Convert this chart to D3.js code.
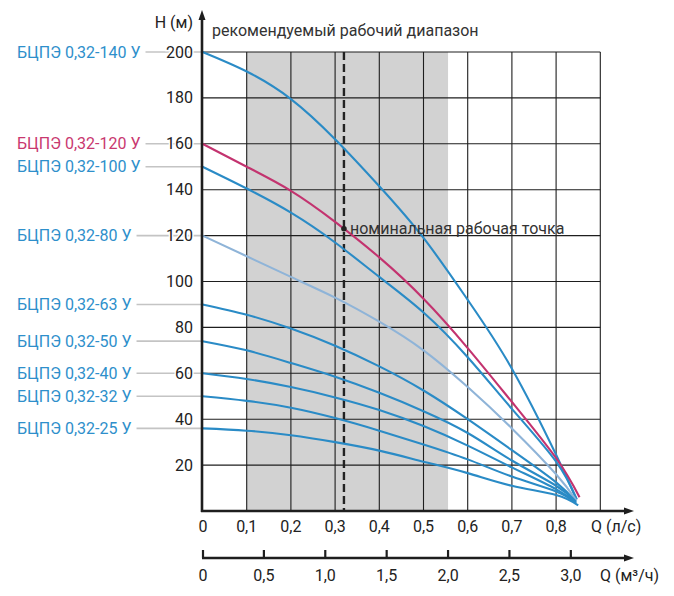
<!DOCTYPE html>
<html>
<head>
<meta charset="utf-8">
<script src="https://cdn.jsdelivr.net/npm/d3@7/dist/d3.min.js"></script>
<style>
  html, body { margin: 0; padding: 0; background: #fff; }
  svg { display: block; font-family: Roboto, "Noto Sans", sans-serif; }
</style>
</head>
<body>
<svg id="chart" width="674" height="596"></svg>
<script>
// ---- data ----
const qPoints = [0, 0.1, 0.2, 0.3, 0.4, 0.5, 0.6, 0.7, 0.8];
const seriesNames = ["БЦПЭ 0,32-140 У", "БЦПЭ 0,32-120 У", "БЦПЭ 0,32-100 У", "БЦПЭ 0,32-80 У",
  "БЦПЭ 0,32-63 У", "БЦПЭ 0,32-50 У", "БЦПЭ 0,32-40 У", "БЦПЭ 0,32-32 У", "БЦПЭ 0,32-25 У"];
const h140 = [200, 191.5, 179.5, 162, 141.5, 119, 92, 62, 24.5];
const h120 = [160, 150, 139.5, 126, 110.5, 92.5, 71, 47.5, 23];
const h100 = [150, 140.5, 130, 117, 102, 86.5, 67, 44.5, 21.5];
const h80  = [120, 111, 102, 93, 82.5, 70, 54, 36, 16];
const h63  = [90, 85.5, 79.5, 72, 63, 52.5, 40, 26.5, 12.5];
const h50  = [74, 70, 64.5, 58.5, 51.5, 43.5, 34, 22, 11];
const h40  = [60, 57.5, 54, 49.5, 44, 37, 28.5, 19, 9.5];
const h32  = [50, 48, 45, 40.5, 35, 29, 22.5, 15, 8.5];
const h25  = [36, 35, 33, 30, 26.3, 21.5, 16.5, 11, 7];
const seriesH = [h140, h120, h100, h80, h63, h50, h40, h32, h25];
const endQ = [0.845, 0.853, 0.847, 0.846, 0.845, 0.845, 0.845, 0.845, 0.85];
const endH = [5.5, 6, 5, 4.5, 4, 4, 3.5, 3.5, 2.5];
const seriesColors = ["#2a8bc6", "#c3336f", "#2a8bc6", "#8fb4d8", "#2a8bc6", "#2a8bc6", "#2a8bc6", "#2a8bc6", "#2a8bc6"];
const labelColors  = ["#2e8fcb", "#c9386f", "#2e8fcb", "#2e8fcb", "#2e8fcb", "#2e8fcb", "#2e8fcb", "#2e8fcb", "#2e8fcb"];

const xTicks = [0, 0.1, 0.2, 0.3, 0.4, 0.5, 0.6, 0.7, 0.8];
const xGrid = [0.1, 0.2, 0.3, 0.4, 0.5, 0.6, 0.7, 0.8, 0.9];
const yTicks = [20, 40, 60, 80, 100, 120, 140, 160, 180, 200];
const x2Ticks = [0, 0.5, 1.0, 1.5, 2.0, 2.5, 3.0];
const rangeQ = [0.1, 2.0 / 3.6];     // рекомендуемый рабочий диапазон, л/с
const nominalQ = 0.32, nominalH = 123;

const fmt = v => (v === 0 ? "0" : d3.format(".1f")(v).replace(".", ","));

// ---- scales ----
const svg = d3.select("#chart");
const x = d3.scaleLinear().domain([0, 0.9]).range([202.5, 600.3]);
const y = d3.scaleLinear().domain([0, 200]).range([511, 52]);
const x2 = d3.scaleLinear().domain([0, 0.9 * 3.6]).range([202.5, 600.3]);
const axisX = 202, dark = "#1e1e1e";

// gray band
svg.append("rect")
  .attr("x", x(rangeQ[0])).attr("y", y(200))
  .attr("width", x(rangeQ[1]) - x(rangeQ[0])).attr("height", y(0) - y(200))
  .attr("fill", "#d2d2d2");

// grid
svg.append("g").selectAll("line").data(yTicks).join("line")
  .attr("x1", axisX).attr("x2", x(0.9))
  .attr("y1", d => y(d)).attr("y2", d => y(d))
  .attr("stroke", dark).attr("stroke-width", 1.1);
svg.append("g").selectAll("line").data(xGrid).join("line")
  .attr("x1", d => x(d)).attr("x2", d => x(d))
  .attr("y1", y(200)).attr("y2", y(0))
  .attr("stroke", dark).attr("stroke-width", 1.1);

// dashed nominal line
svg.append("line")
  .attr("x1", x(nominalQ)).attr("x2", x(nominalQ))
  .attr("y1", y(200)).attr("y2", y(0))
  .attr("stroke", "#222").attr("stroke-width", 2.4)
  .attr("stroke-dasharray", "8,4");

// leader lines + series labels
const labelsG = svg.append("g");
seriesNames.forEach((name, i) => {
  const yy = y(seriesH[i][0]);
  const t = labelsG.append("text")
    .attr("x", 17).attr("y", yy + 5.5)
    .attr("font-size", 16).attr("fill", labelColors[i])
    .text(name);
  const w = t.node().getComputedTextLength();
  labelsG.insert("line", "text")
    .attr("x1", 17 + w + 5).attr("x2", axisX)
    .attr("y1", yy).attr("y2", yy)
    .attr("stroke", "#c4c4c4").attr("stroke-width", 1.6);
});

// curves
const line = d3.line().x(d => x(d[0])).y(d => y(d[1])).curve(d3.curveNatural);
seriesH.forEach((hs, i) => {
  const pts = qPoints.map((q, j) => [q, hs[j]]).concat([[endQ[i], endH[i]]]);
  svg.append("path").attr("d", line(pts))
    .attr("fill", "none").attr("stroke", seriesColors[i]).attr("stroke-width", 2.1);
});

// nominal point
svg.append("circle").attr("cx", x(nominalQ)).attr("cy", y(nominalH)).attr("r", 2.8).attr("fill", "#222");
svg.append("text").attr("x", 350).attr("y", y(nominalH) + 5.5)
  .attr("font-size", 16).attr("fill", "#333").text("номинальная рабочая точка");

// axes
svg.append("line").attr("x1", axisX).attr("x2", axisX).attr("y1", y(0) + 1).attr("y2", 18)
  .attr("stroke", dark).attr("stroke-width", 2.6);
svg.append("path").attr("d", `M${axisX - 3.5},20 L${axisX},10 L${axisX + 3.5},20 Z`).attr("fill", dark);
svg.append("line").attr("x1", axisX - 1).attr("x2", 626).attr("y1", y(0)).attr("y2", y(0))
  .attr("stroke", dark).attr("stroke-width", 2.6);
svg.append("path").attr("d", `M624,${y(0) - 3.5} L634,${y(0)} L624,${y(0) + 3.5} Z`).attr("fill", dark);

// y tick labels
svg.append("g").selectAll("text").data(yTicks).join("text")
  .attr("x", 193).attr("y", d => y(d) + 5.5)
  .attr("text-anchor", "end").attr("font-size", 16).attr("fill", "#222")
  .attr("stroke", "#fff").attr("stroke-width", 3).attr("paint-order", "stroke")
  .text(d => d);
svg.append("text").attr("x", 193).attr("y", 28).attr("text-anchor", "end")
  .attr("font-size", 16).attr("fill", "#222").text("H (м)");
svg.append("text").attr("x", 212).attr("y", 36)
  .attr("font-size", 16).attr("fill", "#333").text("рекомендуемый рабочий диапазон");

// x tick labels
svg.append("g").selectAll("text").data(xTicks).join("text")
  .attr("x", d => x(d) + (d === 0 ? 0.5 : 0)).attr("y", 532)
  .attr("text-anchor", "middle").attr("font-size", 16).attr("fill", "#222")
  .text(fmt);
svg.append("text").attr("x", 591).attr("y", 532).attr("font-size", 16).attr("fill", "#222").text("Q (л/с)");

// second axis (m³/h)
const ax2Y = 558;
svg.append("line").attr("x1", axisX).attr("x2", 626).attr("y1", ax2Y).attr("y2", ax2Y)
  .attr("stroke", dark).attr("stroke-width", 2.4);
svg.append("path").attr("d", `M624,${ax2Y - 3.5} L634,${ax2Y} L624,${ax2Y + 3.5} Z`).attr("fill", dark);
svg.append("g").selectAll("line").data(x2Ticks).join("line")
  .attr("x1", d => x2(d) + (d === 0 ? 0.5 : 0)).attr("x2", d => x2(d) + (d === 0 ? 0.5 : 0))
  .attr("y1", ax2Y - 8).attr("y2", ax2Y)
  .attr("stroke", dark).attr("stroke-width", 2.2);
svg.append("g").selectAll("text").data(x2Ticks).join("text")
  .attr("x", d => x2(d) + (d === 0 ? 0.5 : 0)).attr("y", 581)
  .attr("text-anchor", "middle").attr("font-size", 16).attr("fill", "#222")
  .text(fmt);
svg.append("text").attr("x", 600).attr("y", 581).attr("font-size", 16).attr("fill", "#222").text("Q (м³/ч)");
</script>
</body>
</html>
